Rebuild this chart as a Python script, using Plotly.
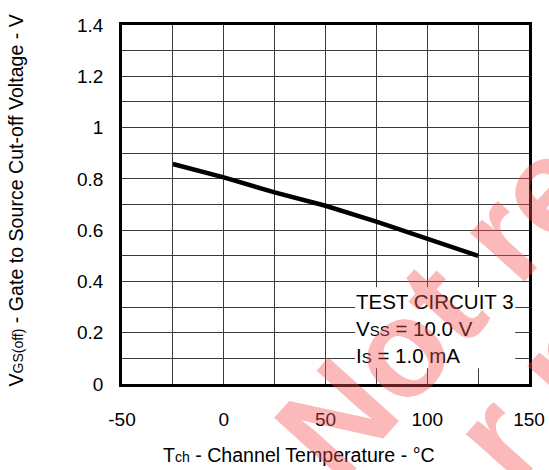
import plotly.graph_objects as go

# Data
temperature_c = [-25, 0, 25, 50, 75, 100, 125]
vgs_off_v = [0.858, 0.806, 0.747, 0.695, 0.633, 0.568, 0.50]

x_tick_vals = [-50, -25, 0, 25, 50, 75, 100, 125, 150]
x_tick_text = ["-50", "", "0", "", "50", "", "100", "", "150"]
y_tick_vals = [0, 0.1, 0.2, 0.3, 0.4, 0.5, 0.6, 0.7, 0.8, 0.9, 1.0, 1.1, 1.2, 1.3, 1.4]
y_tick_text = ["0", "", "0.2", "", "0.4", "", "0.6", "", "0.8", "", "1", "", "1.2", "", "1.4"]

condition_lines = [
    "TEST CIRCUIT 3",
    "V<span style='font-size:15px'>SS</span> = 10.0 V",
    "I<span style='font-size:15px'>S</span> = 1.0 mA",
]

FONT = "Liberation Sans, Arial, sans-serif"

W, H = 549, 470
PL, PT, PR, PB = 122.3, 25.3, 528.7, 383.7  # plot area in page pixels
PW, PH = PR - PL, PB - PT


def px(xp):
    return (xp - PL) / PW


def py(yp):
    return (PB - yp) / PH


fig = go.Figure()
fig.add_trace(go.Scatter(
    x=temperature_c, y=vgs_off_v, mode="lines",
    line=dict(color="black", width=4.5),
    showlegend=False, hoverinfo="skip",
))

axis_common = dict(
    showgrid=True, gridcolor="#3a3a3a", gridwidth=1,
    showline=True, linecolor="black", linewidth=2.5, mirror=True,
    zeroline=False, ticks="", automargin=False,
    tickfont=dict(family=FONT, size=19, color="black"),
)

fig.update_xaxes(range=[-50, 150], tickvals=x_tick_vals, ticktext=x_tick_text,
                 ticklabelstandoff=16, **axis_common)
fig.update_yaxes(range=[0, 1.4], tickvals=y_tick_vals, ticktext=y_tick_text,
                 ticklabelstandoff=12, **axis_common)

# white panel behind the test conditions (masks grid)
fig.add_shape(type="rect", xref="paper", yref="paper",
              x0=px(355), x1=px(515), y0=py(368), y1=py(287),
              fillcolor="white", line=dict(width=0), layer="above")

y_centers = [301.7, 328, 355]
for txt, yc in zip(condition_lines, y_centers):
    fig.add_annotation(x=px(354), y=py(yc), xref="paper", yref="paper", text=txt,
                       showarrow=False, xanchor="left", yanchor="middle",
                       font=dict(family=FONT, size=20.5, color="black"))

# axis titles
fig.add_annotation(
    xref="paper", yref="paper", x=px(299), y=py(455),
    text="T<span style='font-size:14px'>ch</span> - Channel Temperature - °C",
    showarrow=False, xanchor="center", yanchor="middle",
    font=dict(family=FONT, size=19.6, color="black"))

fig.add_annotation(
    xref="paper", yref="paper", x=px(16), y=py(201),
    text="V<span style='font-size:14px'>GS(off)</span> - Gate to Source Cut-off Voltage - V",
    textangle=-90, showarrow=False, xanchor="center", yanchor="middle",
    font=dict(family=FONT, size=19.6, color="black"))

# watermark (cut off by the page edge, as in the original)
WM = dict(family=FONT, size=138, color="rgba(245,80,80,0.4)")
fig.add_annotation(
    xref="paper", yref="paper", x=px(436), y=py(308),
    text="<b>Not re</b>", textangle=-48, showarrow=False,
    xanchor="center", yanchor="middle", font=WM)
fig.add_annotation(
    xref="paper", yref="paper", x=px(537), y=py(392),
    text="<b>r n</b>", textangle=-48, showarrow=False,
    xanchor="center", yanchor="middle", font=WM)

fig.update_layout(
    width=W, height=H,
    margin=dict(l=PL, r=W - PR, t=PT, b=H - PB, autoexpand=False),
    paper_bgcolor="white", plot_bgcolor="white",
    font=dict(family=FONT, color="black"),
)

fig.write_html(
    "out.html",
    config={"displayModeBar": False},
    post_script="document.documentElement.style.margin='0';"
                "document.body.style.margin='0';"
                "document.body.style.overflow='hidden';",
)
